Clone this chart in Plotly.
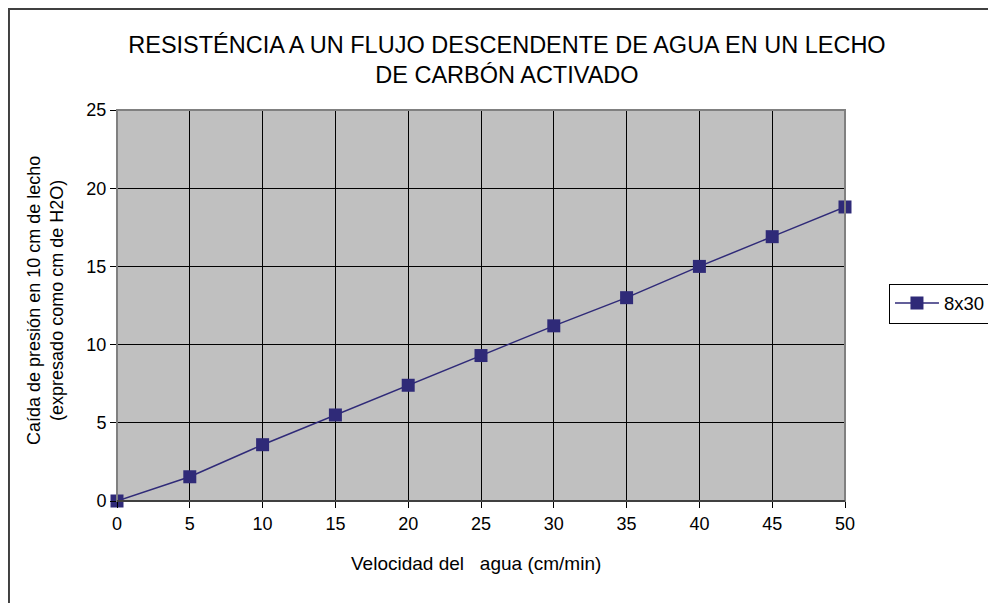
import plotly.graph_objects as go

velocidad = [0, 5, 10, 15, 20, 25, 30, 35, 40, 45, 50]
caida_8x30 = [0, 1.55, 3.6, 5.5, 7.4, 9.3, 11.2, 13.0, 15.0, 16.9, 18.8]
series_name = "8x30"
x_ticks = [0, 5, 10, 15, 20, 25, 30, 35, 40, 45, 50]
y_ticks = [0, 5, 10, 15, 20, 25]

title_text = "RESISTÉNCIA A UN FLUJO DESCENDENTE DE AGUA EN UN LECHO<br>DE CARBÓN ACTIVADO"
x_title = "Velocidad del\u00a0\u00a0\u00a0agua (cm/min)"
y_title = "Caída de presión en 10 cm de lecho<br>(expresado como cm de H2O)"

FONT = "Liberation Sans, Arial, sans-serif"
COLOR = "#2F2A78"

fig = go.Figure()
fig.add_trace(go.Scatter(
    x=velocidad, y=caida_8x30, name=series_name, mode="lines+markers",
    line=dict(color=COLOR, width=1.5),
    marker=dict(symbol="square", size=13, color=COLOR),
    cliponaxis=False,
))

fig.update_layout(
    width=988, height=595,
    margin=dict(l=109, r=151, t=102, b=102, autoexpand=False),
    paper_bgcolor="white", plot_bgcolor="#C0C0C0",
    font=dict(family=FONT, size=18, color="black"),
    title=dict(text=title_text, x=0.505, xanchor="center", y=0.925, yanchor="middle",
               font=dict(family=FONT, size=23.5, color="black")),
    showlegend=True,
    legend=dict(x=1.0604, y=0.505, xanchor="left", yanchor="middle",
                bordercolor="black", borderwidth=1, bgcolor="white",
                font=dict(family=FONT, size=18.5), itemwidth=44,
                tracegroupgap=0),
    xaxis=dict(range=[0, 50], tickvals=x_ticks, ticks="outside", ticklen=6,
               tickcolor="black", showgrid=True, gridcolor="black", gridwidth=1,
               zeroline=False, showline=True, linecolor="black", linewidth=1,
               tickfont=dict(size=18), fixedrange=True, automargin=False),
    yaxis=dict(range=[0, 25], tickvals=y_ticks, ticks="outside", ticklen=6,
               tickcolor="black", showgrid=True, gridcolor="black", gridwidth=1,
               zeroline=False, showline=True, linecolor="#606060", linewidth=1,
               tickfont=dict(size=18), fixedrange=True, automargin=False),
    shapes=[
        dict(type="rect", xref="paper", yref="paper", x0=0, x1=1, y0=0, y1=1,
             line=dict(color="#808080", width=2), layer="above"),
        dict(type="line", xref="paper", yref="paper", x0=0, x1=1, y0=0, y1=0,
             line=dict(color="black", width=1), layer="above"),
        dict(type="rect", xref="paper", yref="paper", x0=-0.1484, x1=1.4,
             y0=-0.4, y1=1.258, line=dict(color="#404040", width=2), layer="below"),
    ],
    annotations=[
        dict(text=x_title, xref="paper", yref="paper", x=0.493, y=-0.159,
             showarrow=False, font=dict(size=19), xanchor="center", yanchor="middle"),
        dict(text=y_title, xref="paper", yref="paper", x=-0.099, y=0.514,
             showarrow=False, font=dict(size=18), textangle=-90,
             xanchor="center", yanchor="middle"),
    ],
)

fig.write_html("out.html")
